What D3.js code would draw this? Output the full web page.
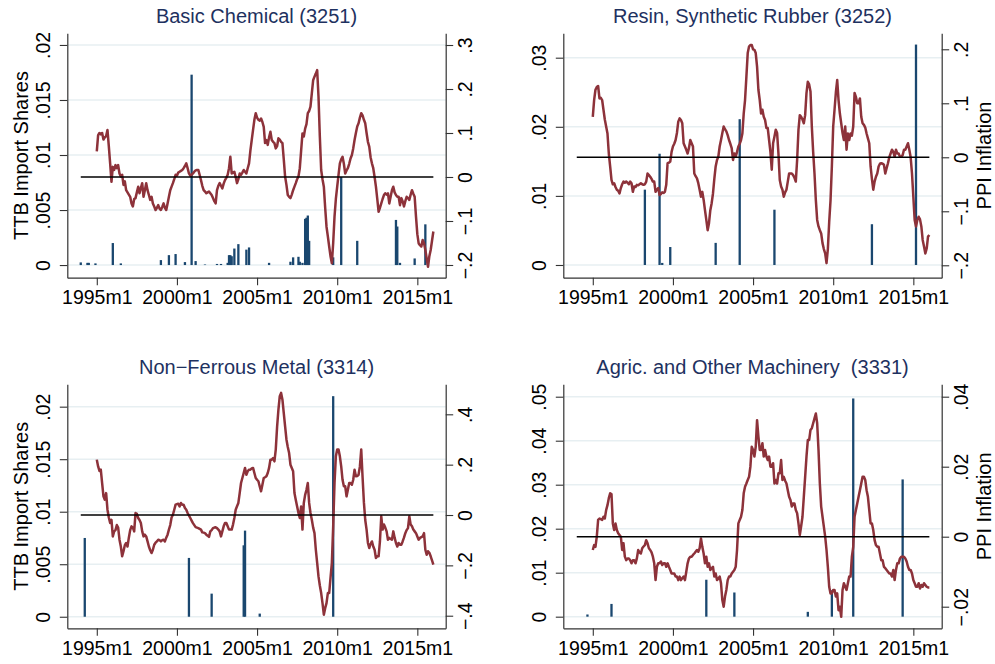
<!DOCTYPE html>
<html>
<head>
<meta charset="utf-8">
<script src="https://cdn.jsdelivr.net/npm/d3@7"></script>
<style>
  body { margin: 0; background: #fff; }
  svg { display: block; font-family: "Liberation Sans", Arial, sans-serif; }
</style>
</head>
<body>
<svg id="chart" width="995" height="664"></svg>
<script>
// ---------------------------------------------------------------
// Monthly PPI inflation (right axis), 1995m1 .. 2016m1, one row per year
// ---------------------------------------------------------------
const ppiStart = "1995m1";

const ppiChem = [
  .058, .095, .10, .097, .10, .085, .09, .093, .107, .07, .031, -.011,
  .023, .016, .027, .02, .027, .008, .001, .005, -.018, -.01, -.03, -.035,
  -.04, -.045, -.06, -.067, -.05, -.048, -.035, -.022, -.037, -.025, -.014, -.045,
  -.03, -.014, -.03, -.041, -.052, -.045, -.06, -.067, -.075, -.07, -.064, -.072,
  -.075, -.068, -.06, -.07, -.075, -.06, -.045, -.03, -.022, -.014, -.005, .005,
  .003, .01, .012, .014, .016, .02, .025, .031, .02, .008, .003, .005,
  .008, .012, .015, .016, .016, .005, -.007, -.02, -.03, -.033, -.037, -.035,
  -.033, -.037, -.041, -.048, -.055, -.06, -.03, -.02, -.014, -.02, -.026, -.015,
  -.007, -.002, .005, .02, .046, .008, .01, .012, .0, -.014, -.005, .008,
  .005, .01, .016, .012, .008, .02, .031, .06, .084, .107, .13, .145,
  .135, .13, .128, .133, .125, .114, .077, .084, .073, .09, .103, .084,
  .08, .077, .065, .07, .088, .085, .08, .077, .04, .001, -.018, -.041,
  -.045, -.048, -.04, -.03, -.022, -.014, -.005, .001, .02, .06, .099, .092,
  .11, .12, .145, .15, .16, .19, .22, .228, .235, .243, .183, .092,
  .016, -.005, -.022, -.07, -.113, -.135, -.158, -.18, -.196, -.15, -.09, -.05,
  -.022, .005, .031, .04, .046, .03, .008, .015, .02, .03, .042, .05,
  .065, .084, .1, .115, .122, .135, .145, .14, .13, .122, .1, .08,
  .069, .045, .031, .02, .0, -.022, -.05, -.079, -.07, -.06, -.05, -.041,
  -.037, -.04, -.037, -.06, -.045, -.03, -.022, -.035, -.041, -.045, -.045, -.064,
  -.048, -.055, -.067, -.055, -.045, -.048, -.052, -.04, -.03, -.038, -.045, -.09,
  -.13, -.151, -.155, -.158, -.143, -.15, -.166, -.185, -.204, -.18, -.166, -.145,
  -.124
];

const ppiResin = [
  .075, .106, .125, .13, .132, .109, .11, .106, .088, .07, .057, .044,
  .007, -.017, -.042, -.05, -.048, -.055, -.06, -.062, -.067, -.057, -.05, -.045,
  -.047, -.045, -.047, -.05, -.045, -.048, -.064, -.054, -.055, -.051, -.052, -.05,
  -.048, -.05, -.051, -.05, -.045, -.03, -.033, -.036, -.04, -.045, -.045, -.064,
  -.06, -.057, -.07, -.068, -.065, -.066, -.064, -.051, -.011, -.01, -.008, .01,
  .02, .025, .032, .045, .066, .072, .069, .063, .026, .02, .014, .007,
  .017, .032, .026, .02, -.03, -.035, -.039, -.048, -.06, -.073, -.064, -.079,
  -.098, -.116, -.135, -.122, -.098, -.085, -.067, -.04, -.017, -.005, .001, .02,
  .032, .045, .057, .052, .048, .041, .032, .025, .017, -.005, .007, .001,
  .01, .02, .025, .032, .044, .081, .106, .149, .193, .205, .208, .208,
  .2, .199, .193, .168, .125, .106, .081, .088, .075, .069, .054, .054,
  .032, .01, -.023, .026, .038, .051, .045, .007, -.042, -.054, -.06, -.073,
  -.065, -.06, -.045, -.03, -.03, -.03, -.033, -.038, -.045, -.005, .051, .078,
  .075, .07, .063, .078, .119, .14, .135, .122, .057, .01, -.03, -.079,
  -.116, -.128, -.135, -.141, -.159, -.17, -.178, -.196, -.17, -.12, -.08, -.017,
  .057, .088, .12, .143, .106, .081, .063, .045, .032, .057, .014, .044,
  .032, .044, .04, .057, .119, .112, .1, .1, .109, .075, .063, .06,
  .055, .044, .035, .026, -.017, -.04, -.06, -.045, -.036, -.03, -.017, -.012,
  -.011, -.012, -.014, -.03, -.02, -.011, .0, .007, .014, .01, .001, .014,
  .007, .007, .001, .001, .004, .014, .014, .02, .026, .014, .0, -.03,
  -.073, -.116, -.128, -.116, -.11, -.115, -.128, -.153, -.165, -.178, -.169, -.147,
  -.144
];

const ppiMetal = [
  .22, .193, .175, .18, .127, .074, .061, .087, .021, -.01, -.032, -.019,
  -.085, -.065, -.06, -.04, -.05, -.098, -.125, -.164, -.144, -.12, -.111, -.125,
  -.09, -.06, -.045, -.05, -.065, .008, .005, -.012, -.02, -.032, -.065, -.085,
  -.078, -.085, -.105, -.125, -.14, -.151, -.138, -.118, -.11, -.105, -.098, -.1,
  -.105, -.1, -.098, -.105, -.09, -.078, -.058, -.04, -.01, .001, .021, .041,
  .043, .045, .034, .048, .041, .041, .028, .021, .008, -.002, -.012, -.022,
  -.032, -.04, -.048, -.05, -.052, -.055, -.058, -.069, -.07, -.072, -.078, -.082,
  -.087, -.065, -.06, -.052, -.05, -.049, -.052, -.058, -.065, -.085, -.065, -.045,
  -.032, -.032, -.045, -.058, -.058, -.058, -.038, -.012, .021, .035, .048, .087,
  .127, .147, .167, .187, .16, .174, .18, .18, .185, .187, .167, .147,
  .14, .134, .114, .094, .12, .147, .15, .154, .167, .187, .22, .22,
  .226, .213, .26, .35, .419, .472, .485, .458, .405, .352, .3, .27,
  .246, .2, .187, .174, .087, .06, .034, .008, -.012, .034, -.058, .048,
  .08, .1, .127, .048, .008, -.019, -.05, -.072, -.138, -.19, -.244, -.28,
  -.31, -.35, -.396, -.37, -.35, -.31, -.31, -.25, -.191, -.045, .127, .233,
  .26, .26, .233, .193, .14, .114, .114, .074, .1, .127, .127, .12,
  .14, .18, .154, .155, .16, .193, .26, .15, .05, -.02, -.058, -.111,
  -.131, -.115, -.105, -.125, -.138, -.171, -.164, -.164, -.105, -.005, -.058, -.038,
  -.05, -.065, -.098, -.091, -.095, -.098, -.065, -.09, -.111, -.125, -.111, -.118,
  -.118, -.105, -.09, -.072, -.06, -.052, -.005, -.038, -.045, -.058, -.065, -.072,
  -.085, -.098, -.091, -.088, -.085, -.072, -.138, -.158, -.144, -.15, -.164, -.18,
  -.197
];

const ppiMach = [
  -.0038, -.0024, -.0029, .0, .0048, .0052, .005, .0048, .0057, .0052, .0076, .009,
  .011, .0124, .0122, .0038, .0019, .0038, .0019, .001, .0005, 0, -.0038, -.0019,
  -.0057, -.0067, -.0062, -.0062, -.0067, -.0076, -.0067, -.0067, -.0076, -.0062, -.0038, -.0045,
  -.0048, -.0033, -.0028, -.0024, -.001, -.0019, -.0033, -.0038, -.0045, -.0057, -.0076, -.0124,
  -.0086, -.0076, -.0076, -.0071, -.0081, -.0076, -.0076, -.0086, -.0076, -.0086, -.0095, -.0105,
  -.0105, -.0105, -.0114, -.0114, -.0124, -.0114, -.0124, -.0119, -.0114, -.0124, -.01, -.0076,
  -.0062, -.0057, -.0057, -.0052, -.0048, -.0043, -.0038, -.0043, -.0033, -.0005, -.0029, -.0048,
  -.0076, -.0057, -.0086, -.0076, -.0095, -.009, -.0086, -.0114, -.0105, -.0124, -.012, -.0114,
  -.0133, -.0181, -.02, -.0171, -.0152, -.0124, -.0114, -.0114, -.0105, -.01, -.0095, -.0086,
  -.0038, .0038, .0048, .0057, .0076, .0124, .0143, .0152, .0162, .0171, .02, .0257,
  .0248, .0229, .0257, .0333, .0286, .0248, .0248, .0267, .0229, .0248, .0229, .0219,
  .0229, .02, .02, .021, .0152, .0162, .0152, .0181, .0181, .0219, .0162, .0171,
  .016, .0152, .0133, .0114, .0105, .0086, .0095, .0095, .0076, .0067, .0038, .0005,
  .003, .0057, .0114, .0171, .0229, .0276, .0276, .0305, .031, .0324, .0338, .0352,
  .0324, .0248, .0152, .0086, .0057, .0029, 0, -.0038, -.0086, -.0143, -.0162, -.0162,
  -.0152, -.0152, -.0171, -.0162, -.021, -.02, -.0229, -.0152, -.0133, -.0143, -.0152, -.0133,
  -.0114, -.0114, -.0057, -.0029, .0057, .0076, .0095, .0114, .0133, .0152, .0171, .0171,
  .0162, .0133, .0114, .0076, .0038, .0038, .0019, -.001, -.0024, -.0029, -.0029, -.0048,
  -.0067, -.0067, -.0086, -.009, -.0095, -.01, -.0105, -.0105, -.0114, -.0095, -.0124, -.0095,
  -.0076, -.0076, -.0062, -.0057, -.0057, -.0057, -.0062, -.0071, -.0086, -.0095, -.0095, -.0105,
  -.0124, -.0133, -.0143, -.0143, -.0133, -.0148, -.0138, -.0143, -.0133, -.0138, -.0143, -.0145,
  -.0145
];

// ---------------------------------------------------------------
// TTB import shares (left axis): months with a non-zero share
// ---------------------------------------------------------------
const ttbDatesChem = ["1994m1","1994m6","1994m7","1994m12","1996m1","1996m7","1999m1","1999m7",
  "1999m12","2000m7","2000m12","2001m3","2001m10","2002m7","2002m10","2003m3","2003m4","2003m5",
  "2003m6","2003m8","2003m11","2004m5","2004m7","2005m10","2007m2","2007m4","2007m8","2007m9",
  "2007m11","2008m1","2008m2","2008m3","2008m4","2009m10","2010m4","2011m4","2013m9","2013m10",
  "2013m12","2014m11","2015m7"];
const ttbChem = [.00024,.0002,.0002,.00015,.002,.00015,.00045,.0009,
  .001,.00027,.0173,.00036,.00005,.0001,.0001,.0002,.0009,.0009,
  .0008,.0015,.0019,.0014,.0016,.0002,.0003,.0007,.00075,.0003,
  .0002,.0042,.0043,.0045,.0022,.0007,.008,.0022,.0041,.0035,
  .0002,.0006,.0037];

const ttbDatesResin = ["1998m4","1999m3","1999m5","1999m11","2002m9","2004m3","2006m5","2012m6","2015m3"];
const ttbResin = [.0109,.0161,.0003,.0026,.0032,.0211,.008,.0059,.0319];

const ttbDatesMetal = ["1994m4","2000m10","2002m3","2004m3","2004m4","2005m3","2009m10"];
const ttbMetal = [.0075,.0056,.0022,.0068,.0082,.0003,.021];

const ttbDatesMach = ["1994m9","1996m3","2002m2","2003m11","2008m6","2009m12","2011m4","2014m5"];
const ttbMach = [.0005,.0029,.0084,.0055,.0011,.006,.0496,.0312];

// ---------------------------------------------------------------
// Titles and tick values
// ---------------------------------------------------------------
const panelTitles = ["Basic Chemical (3251)", "Resin, Synthetic Rubber (3252)",
                     "Non\u2212Ferrous Metal (3314)", "Agric. and Other Machinery  (3331)"];
const xTickYears = [1995, 2000, 2005, 2010, 2015];
const xTickLabels = ["1995m1", "2000m1", "2005m1", "2010m1", "2015m1"];

const leftTicksChem = [0, .005, .01, .015, .02];
const rightTicksChem = [-.2, -.1, 0, .1, .2, .3];
const leftTicksResin = [0, .01, .02, .03];
const rightTicksResin = [-.2, -.1, 0, .1, .2];
const leftTicksMetal = [0, .005, .01, .015, .02];
const rightTicksMetal = [-.4, -.2, 0, .2, .4];
const leftTicksMach = [0, .01, .02, .03, .04, .05];
const rightTicksMach = [-.02, 0, .02, .04];

const leftAxisTitle = "TTB Import Shares";
const rightAxisTitle = "PPI Inflation";
const zeroLineSpan = ["1994m1", "2016m1"];

// ---------------------------------------------------------------
// Helpers
// ---------------------------------------------------------------
function parseMonth(s) {            // "1995m7" -> decimal year
  const [y, m] = s.split("m").map(Number);
  return y + (m - 1) / 12;
}
function fmtTick(v) {               // 0.015 -> ".015", -0.2 -> "−.2"
  if (Math.abs(v) < 1e-12) return "0";
  const s = String(+Math.abs(v).toPrecision(6)).replace(/^0/, "");
  return (v < 0 ? "\u2212" : "") + s;
}

const COLORS = {
  bar: "#1a476f",
  line: "#8d323a",
  zero: "#000000",
  grid: "#e7eff2",
  axis: "#333333",
  title: "#1e3160",
  text: "#000000"
};

const xDomain = [1993.16, 2016.77];

const panels = [
  { title: panelTitles[0], ppi: ppiChem, dates: ttbDatesChem, shares: ttbChem,
    left: 67.3, right: 445.7, top: 33.3, bottom: 277.7,
    lDom: [-0.00115, 0.02106], rDom: [-0.2289, 0.3266],
    lTicks: leftTicksChem, rTicks: rightTicksChem, leftTitle: true, rightTitle: false },
  { title: panelTitles[1], ppi: ppiResin, dates: ttbDatesResin, shares: ttbResin,
    left: 563.3, right: 941.7, top: 33.3, bottom: 277.7,
    lDom: [-0.00184, 0.03353], rDom: [-0.223, 0.2296],
    lTicks: leftTicksResin, rTicks: rightTicksResin, leftTitle: false, rightTitle: true },
  { title: panelTitles[2], ppi: ppiMetal, dates: ttbDatesMetal, shares: ttbMetal,
    left: 67.3, right: 445.7, top: 384.3, bottom: 628.3,
    lDom: [-0.0011, 0.02213], rDom: [-0.45, 0.5192],
    lTicks: leftTicksMetal, rTicks: rightTicksMetal, leftTitle: true, rightTitle: false },
  { title: panelTitles[3], ppi: ppiMach, dates: ttbDatesMach, shares: ttbMach,
    left: 563.3, right: 941.7, top: 384.3, bottom: 628.3,
    lDom: [-0.00264, 0.05282], rDom: [-0.02617, 0.04354],
    lTicks: leftTicksMach, rTicks: rightTicksMach, leftTitle: false, rightTitle: true }
];

const svg = d3.select("#chart");
svg.append("rect").attr("width", 995).attr("height", 664).attr("fill", "#fff");

const TICK_FONT = 19.5, TITLE_FONT = 20;
const t0 = parseMonth(ppiStart);

panels.forEach(p => {
  const g = svg.append("g");
  const x = d3.scaleLinear().domain(xDomain).range([p.left, p.right]);
  const yL = d3.scaleLinear().domain(p.lDom).range([p.bottom, p.top]);
  const yR = d3.scaleLinear().domain(p.rDom).range([p.bottom, p.top]);

  // horizontal grid at left-axis ticks
  g.append("g").selectAll("line").data(p.lTicks).join("line")
    .attr("x1", p.left).attr("x2", p.right)
    .attr("y1", d => yL(d)).attr("y2", d => yL(d))
    .attr("stroke", COLORS.grid).attr("stroke-width", 1.5);

  // import-share bars
  const bars = p.dates.map((d, i) => ({ t: parseMonth(d), v: p.shares[i] }));
  g.append("g").selectAll("rect").data(bars).join("rect")
    .attr("x", d => x(d.t) - 1.15)
    .attr("width", 2.3)
    .attr("y", d => yL(d.v))
    .attr("height", d => yL(0) - yL(d.v))
    .attr("fill", COLORS.bar);

  // PPI inflation line
  const series = p.ppi.map((v, i) => ({ t: t0 + i / 12, v }));
  g.append("path").datum(series)
    .attr("fill", "none")
    .attr("stroke", COLORS.line)
    .attr("stroke-width", 2.5)
    .attr("stroke-linejoin", "round")
    .attr("d", d3.line().x(d => x(d.t)).y(d => yR(d.v)));

  // zero reference line
  g.append("line")
    .attr("x1", x(parseMonth(zeroLineSpan[0]))).attr("x2", x(parseMonth(zeroLineSpan[1])))
    .attr("y1", yR(0)).attr("y2", yR(0))
    .attr("stroke", COLORS.zero).attr("stroke-width", 1.6);

  // axes
  const styleAxis = sel => {
    sel.attr("font-size", null).attr("font-family", null);
    sel.select(".domain").attr("stroke", COLORS.axis).attr("stroke-width", 1.2);
    sel.selectAll(".tick line").attr("stroke", COLORS.axis).attr("stroke-width", 1.1);
    sel.selectAll(".tick text").attr("fill", COLORS.text).style("font-size", TICK_FONT + "px");
  };

  const axL = g.append("g").attr("transform", `translate(${p.left},0)`)
    .call(d3.axisLeft(yL).tickValues(p.lTicks).tickFormat(fmtTick).tickSize(7.5).tickSizeOuter(0));
  styleAxis(axL);
  axL.selectAll(".tick text")
    .attr("x", null).attr("dy", null).attr("text-anchor", "middle")
    .attr("transform", "translate(-17.3,0) rotate(-90)");

  const axR = g.append("g").attr("transform", `translate(${p.right},0)`)
    .call(d3.axisRight(yR).tickValues(p.rTicks).tickFormat(fmtTick).tickSize(7.5).tickSizeOuter(0));
  styleAxis(axR);
  axR.selectAll(".tick text")
    .attr("x", null).attr("dy", null).attr("text-anchor", "middle")
    .attr("transform", "translate(26.3,0) rotate(-90)");

  const axB = g.append("g").attr("transform", `translate(0,${p.bottom})`)
    .call(d3.axisBottom(x).tickValues(xTickYears)
      .tickFormat((d, i) => xTickLabels[i]).tickSize(7.5).tickSizeOuter(0));
  styleAxis(axB);
  axB.selectAll(".tick text").attr("y", 26.5).attr("dy", null);

  // panel title
  g.append("text")
    .attr("x", (p.left + p.right) / 2).attr("y", p.top - 10)
    .attr("text-anchor", "middle")
    .style("font-size", TITLE_FONT + "px")
    .style("white-space", "pre")
    .attr("fill", COLORS.title)
    .text(p.title);

  const midY = (p.top + p.bottom) / 2;
  if (p.leftTitle) {
    g.append("text")
      .attr("transform", `translate(28,${midY}) rotate(-90)`)
      .attr("text-anchor", "middle")
      .style("font-size", TITLE_FONT + "px")
      .attr("fill", COLORS.text)
      .text(leftAxisTitle);
  }
  if (p.rightTitle) {
    g.append("text")
      .attr("transform", `translate(${p.right + 49.3},${midY}) rotate(-90)`)
      .attr("text-anchor", "middle")
      .style("font-size", TITLE_FONT + "px")
      .attr("fill", COLORS.text)
      .text(rightAxisTitle);
  }
});
</script>
</body>
</html>
